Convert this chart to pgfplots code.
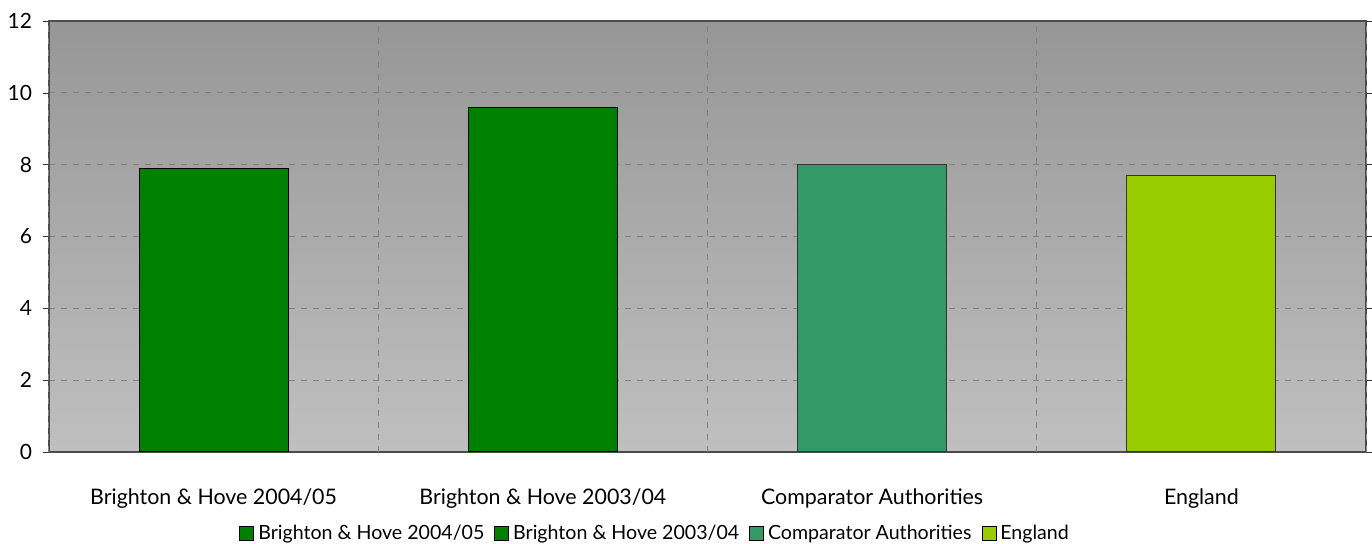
\documentclass[border=0pt]{standalone}
\usepackage{fontspec}
\setmainfont{Lato}
\usepackage{pgfplots}
\pgfplotsset{compat=1.18}
\definecolor{gA}{HTML}{008000}
\definecolor{gC}{HTML}{339966}
\definecolor{gE}{HTML}{99CC00}
\definecolor{gridc}{HTML}{808080}
\begin{document}
\begin{tikzpicture}
\path[use as bounding box] (-24.5pt,-46pt) rectangle (661.5pt,226pt);
\begin{axis}[
  at={(0pt,0pt)}, anchor=south west,
  scale only axis,
  width=658.5pt, height=215.5pt,
  xmin=-0.5, xmax=3.5, ymin=0, ymax=12,
  ytick={0,2,...,12},
  xtick={0,1,2,3},
  xticklabels={Brighton \& Hove 2004/05, Brighton \& Hove 2003/04, Comparator Authorities, England},
  x tick style={draw=none},
  extra x ticks={-0.5,0.5,1.5,2.5,3.5},
  extra x tick labels={},
  extra x tick style={grid=major, tick style={draw=black!80}},
  tick align=outside,
  major tick length=3pt,
  ymajorgrids,
  grid style={dashed, gridc, line width=0.5pt},
  axis line style={black!70, line width=0.8pt},
  y tick style={black!80},
  /pgf/number format/assume math mode=true,
  tick label style={font=\fontsize{10.5pt}{12pt}\selectfont},
  yticklabel style={xshift=-2pt},
  xticklabel style={yshift=-12pt, font=\fontsize{10.7pt}{12pt}\selectfont},
  axis background/.style={top color=black!41, bottom color=black!25},
  ybar, bar width=74.5pt, bar shift=0pt,
  legend columns=4,
  legend style={draw=none, fill=none, at={(0.461,-0.19)}, anchor=center,
    font=\fontsize{9.8pt}{11pt}\selectfont, /tikz/every even column/.append style={column sep=3pt}},
  legend image code/.code={\draw[#1, draw=black, line width=0.4pt] (0pt,-3.5pt) rectangle (7pt,3.5pt);},
]
\addplot[fill=gA, draw=black, line width=0.5pt] coordinates {(0,7.9)};
\addplot[fill=gA, draw=black, line width=0.5pt] coordinates {(1,9.6)};
\addplot[fill=gC, draw=black!80, line width=0.5pt] coordinates {(2,8.0)};
\addplot[fill=gE, draw=black!80, line width=0.5pt] coordinates {(3,7.7)};
\legend{Brighton \& Hove 2004/05, Brighton \& Hove 2003/04, Comparator Authorities, England}
\end{axis}
\end{tikzpicture}
\end{document}
